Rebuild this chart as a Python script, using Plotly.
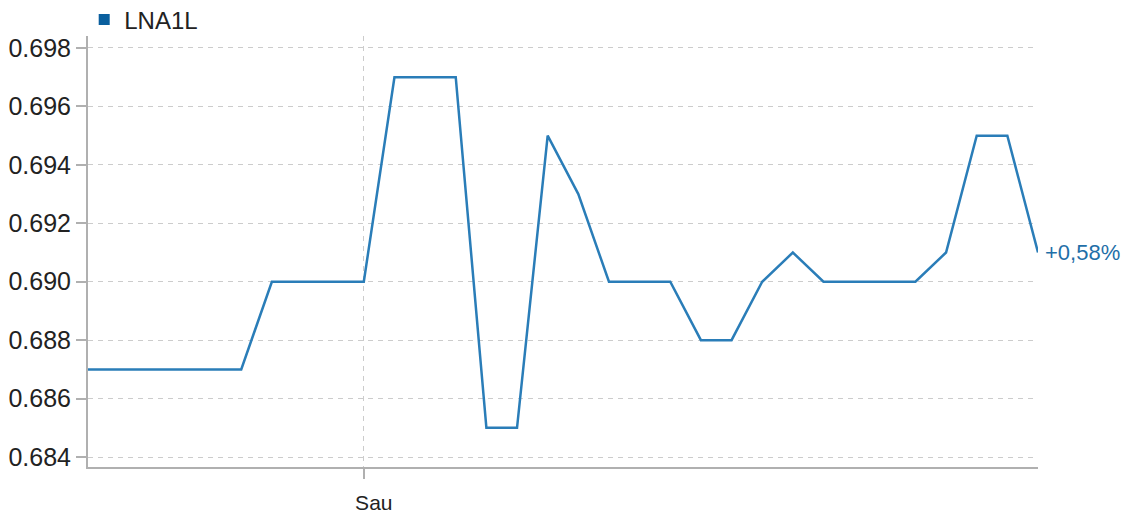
import plotly.graph_objects as go

series_name = "LNA1L"
prices = [0.687, 0.687, 0.687, 0.687, 0.687, 0.687, 0.690, 0.690, 0.690, 0.690,
          0.697, 0.697, 0.697, 0.685, 0.685, 0.695, 0.693, 0.690, 0.690, 0.690,
          0.688, 0.688, 0.690, 0.691, 0.690, 0.690, 0.690, 0.690, 0.691, 0.695,
          0.695, 0.691]
steps = list(range(len(prices)))
x_tick_pos = [9]
x_tick_text = ["Sau"]
y_ticks = [0.684, 0.686, 0.688, 0.690, 0.692, 0.694, 0.696, 0.698]
change_label = "+0,58%"

line_color = "#2a7db8"
font = "Liberation Sans, Arial, sans-serif"

fig = go.Figure()
fig.add_trace(go.Scatter(x=steps, y=prices, mode="lines",
                         line=dict(color=line_color, width=2.5),
                         showlegend=False, hoverinfo="x+y"))
# legend-only entry with square marker
fig.add_trace(go.Scatter(x=[None], y=[None], mode="markers", name=series_name,
                         marker=dict(symbol="square", size=11, color="#0a5f9e")))

fig.add_annotation(x=steps[-1], y=prices[-1], text=change_label, showarrow=False,
                   xanchor="left", yanchor="middle", xshift=5,
                   font=dict(family=font, size=22, color="#1f6fa8"))

# page body has an 8px margin, so the figure is 8px smaller than the window
fig.update_layout(
    width=1122, height=510,
    margin=dict(l=80, r=92, t=28, b=51, autoexpand=False),
    paper_bgcolor="white", plot_bgcolor="white",
    font=dict(family=font, size=24, color="#222222"),
    legend=dict(orientation="h", x=-0.004, y=0.985, xanchor="left", yanchor="bottom",
                font=dict(size=24, color="#222222"), bgcolor="rgba(0,0,0,0)",
                itemwidth=30),
)
fig.update_xaxes(
    range=[0, len(prices) - 1], tickvals=x_tick_pos, ticktext=x_tick_text,
    showgrid=True, gridcolor="#cccccc", griddash="5px,5px", gridwidth=1,
    showline=True, linecolor="#b0b0b0", linewidth=2,
    ticks="outside", ticklen=10, tickcolor="#b0b0b0", tickwidth=2,
    tickfont=dict(size=21), ticklabelshift=10, ticklabelstandoff=6,
    zeroline=False,
)
fig.update_yaxes(
    range=[0.68366, 0.69841], tickvals=y_ticks, tickformat=".3f",
    showgrid=True, gridcolor="#cccccc", griddash="5px,5px", gridwidth=1,
    showline=True, linecolor="#b0b0b0", linewidth=2,
    ticks="outside", ticklen=10, tickcolor="#b0b0b0", tickwidth=2,
    tickfont=dict(size=25), zeroline=False,
)

fig.write_html("out.html")
